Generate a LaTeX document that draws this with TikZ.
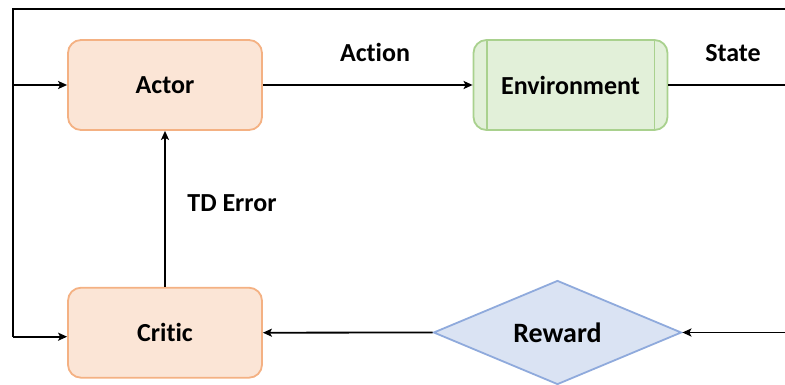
\documentclass[tikz,border=0pt]{standalone}
\usepackage{fontspec}
\setmainfont{Carlito}[Ligatures=NoCommon]
\usetikzlibrary{shapes.geometric,arrows.meta}
\definecolor{orfill}{HTML}{FBE5D6}
\definecolor{ordraw}{HTML}{F4B183}
\definecolor{grfill}{HTML}{E2F0D9}
\definecolor{grdraw}{HTML}{A9D18E}
\definecolor{blfill}{HTML}{DAE3F3}
\definecolor{bldraw}{HTML}{8FAADC}
\begin{document}
\begin{tikzpicture}[x=1pt,y=-1pt,
  box/.style={rectangle, rounded corners=13pt, minimum width=194pt, minimum height=90pt, line width=1.8pt, inner sep=0pt, font=\bfseries\fontsize{26}{30}\selectfont},
  orbox/.style={box, fill=orfill, draw=ordraw},
  grbox/.style={box, fill=grfill, draw=grdraw},
  lbl/.style={font=\bfseries\fontsize{26}{30}\selectfont, inner sep=0pt},
  wire/.style={line width=1.8pt, draw=black},
  arr/.style={wire, -{Stealth[length=9pt,width=8pt,inset=2pt]}}
]
\useasboundingbox (0,0) rectangle (785,385);
\node[orbox] (actor) at (165,85) {Actor};
\node[grbox] (env) at (570.5,85) {Environment};
\draw[grdraw, line width=1.8pt] ([xshift=14pt]env.north west) -- ([xshift=14pt]env.south west);
\draw[grdraw, line width=1.8pt] ([xshift=-14pt]env.north east) -- ([xshift=-14pt]env.south east);
\node[orbox] (critic) at (165,332.7) {Critic};
\node[diamond, aspect=2.38, minimum width=248pt, minimum height=104pt, inner sep=0pt, fill=blfill, draw=bldraw, line width=1.8pt, font=\bfseries\fontsize{28}{32}\selectfont] (reward) at (557.5,332.5) {Reward};

\node[lbl] (action) at (375,52) {Action};
\node[lbl] (state) at (733,53) {State};
\node[lbl] (td) at (232,203) {TD Error};

\coordinate (tr) at (785,9);
\coordinate (tl) at (13,9);
\coordinate (la) at (13,85);
\coordinate (lc) at (13,336.7);
\coordinate (sr) at (785,85);
\coordinate (rr) at (785,332.5);

\draw[wire] (tr) -- (tl) -- (lc);
\draw[arr] (la) -- (actor.west);
\draw[arr] (lc) -- (lc -| critic.west);
\draw[arr] (actor.east) -- (env.west);
\draw[wire] (env.east) -- (sr);
\draw[arr] (critic.north) -- (actor.south);
\draw[arr] (rr) -- (reward.east);
\draw[arr] (reward.west) -- (critic.east);
\end{tikzpicture}
\end{document}
